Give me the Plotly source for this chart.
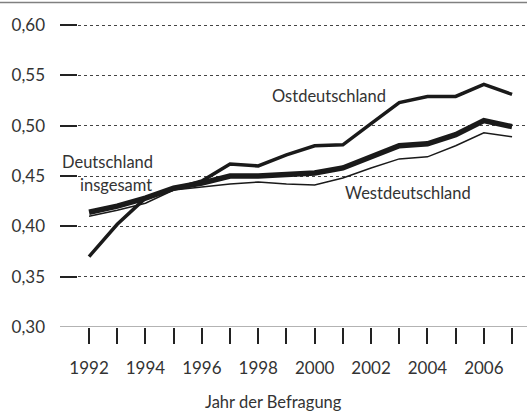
import plotly.graph_objects as go

years = list(range(1992, 2008))
ost = [0.370, 0.402, 0.428, 0.437, 0.445, 0.462, 0.460, 0.471, 0.480, 0.481,
       0.502, 0.523, 0.529, 0.529, 0.541, 0.531]
gesamt = [0.414, 0.420, 0.428, 0.438, 0.443, 0.450, 0.450, 0.451, 0.453, 0.458,
          0.469, 0.480, 0.482, 0.491, 0.505, 0.499]
west = [0.410, 0.416, 0.423, 0.436, 0.439, 0.442, 0.444, 0.442, 0.441, 0.448,
        0.458, 0.467, 0.469, 0.480, 0.493, 0.489]
ytick_vals = [0.30, 0.35, 0.40, 0.45, 0.50, 0.55, 0.60]
ytick_text = ["0,30", "0,35", "0,40", "0,45", "0,50", "0,55", "0,60"]
xtick_text = [str(y) if y % 2 == 0 else "" for y in years]

FONT = "Lato"
TXT = "#333333"
LINE = "#1a1a1a"
PXU = 302 / 0.30           # pixels per y unit
YTOP = 0.60 + 25 / PXU     # top of plot area = top of figure
XDOM0 = 60 / 527           # left edge of plotting area

fig = go.Figure()
fig.add_trace(go.Scatter(x=years, y=west, mode="lines",
                         line=dict(color=LINE, width=1.5), name="Westdeutschland"))
fig.add_trace(go.Scatter(x=years, y=ost, mode="lines",
                         line=dict(color=LINE, width=3.5), name="Ostdeutschland"))
fig.add_trace(go.Scatter(x=years, y=gesamt, mode="lines",
                         line=dict(color=LINE, width=5.5), name="Deutschland insgesamt"))

fig.update_layout(
    width=527, height=411,
    margin=dict(l=0, r=0, t=0, b=84),
    paper_bgcolor="white", plot_bgcolor="white",
    showlegend=False,
    font=dict(family=FONT, color=TXT, size=16),
    xaxis=dict(domain=[XDOM0, 1], range=[1990.97, 2007.53], tickvals=years,
               ticktext=xtick_text,
               ticks="outside", ticklen=16, tickwidth=1.5, tickcolor="#222",
               showgrid=False, zeroline=False, showline=False, automargin=False,
               tickfont=dict(size=17, color=TXT), ticklabelstandoff=10),
    yaxis=dict(range=[0.30, YTOP], tickvals=ytick_vals, ticktext=ytick_text,
               ticks="inside", ticklen=17, tickwidth=1.5, tickcolor="#222",
               showgrid=True, gridcolor="#444", griddash="dot", gridwidth=1,
               zeroline=False, showline=False, automargin=False,
               tickfont=dict(size=17, color=TXT), ticklabelstandoff=14),
    shapes=[
        dict(type="line", xref="paper", yref="paper", x0=0, x1=1,
             y0=(327 - 2.5) / 327, y1=(327 - 2.5) / 327,
             line=dict(color="#808080", width=1.5), layer="above"),
        dict(type="line", xref="paper", yref="y", x0=XDOM0, x1=1, y0=0.30, y1=0.30,
             line=dict(color="#666", width=1), layer="above"),
    ],
    annotations=[
        dict(x=2000.5, y=0.5295, xref="x", yref="y", text="Ostdeutschland",
             showarrow=False, font=dict(size=16.5, color=TXT)),
        dict(x=2003.3, y=0.4331, xref="x", yref="y", text="Westdeutschland",
             showarrow=False, font=dict(size=16.5, color=TXT)),
        dict(x=1992.65, y=0.4639, xref="x", yref="y", text="Deutschland",
             showarrow=False, font=dict(size=16.5, color=TXT)),
        dict(x=1992.95, y=0.4411, xref="x", yref="y", text="insgesamt",
             showarrow=False, font=dict(size=16.5, color=TXT)),
        dict(x=1998.53, y=-75 / 327, xref="x", yref="paper", text="Jahr der Befragung",
             showarrow=False, yanchor="middle", font=dict(size=16.5, color=TXT)),
    ],
)

fig.write_html("out.html", config={"displayModeBar": False},
               post_script="document.body.style.margin='0';")
